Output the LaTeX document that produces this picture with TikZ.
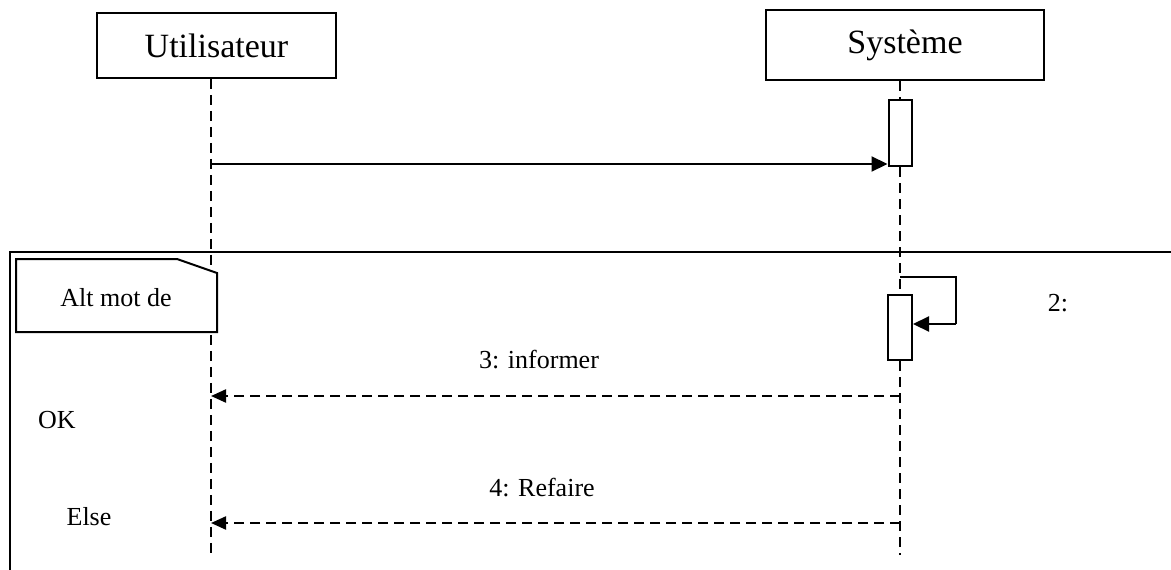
\documentclass[tikz,border=0pt]{standalone}
\usepackage{fontspec}
\setmainfont{Liberation Serif}
\usetikzlibrary{arrows.meta}
\begin{document}
\begin{tikzpicture}[x=1pt,y=-1pt,
  obj/.style={draw, line width=1.6pt, inner sep=0pt, font=\fontsize{34}{40}\selectfont},
  actbar/.style={draw, line width=2pt, fill=white, minimum width=23pt, minimum height=65pt, inner sep=0pt},
  life/.style={line width=2.2pt, dash pattern=on 10pt off 6pt},
  msg/.style={line width=2.2pt, -{Triangle[length=16pt,width=15pt]}},
  reply/.style={line width=2.2pt, dash pattern=on 10pt off 6pt, -{Triangle[length=15pt,width=13pt]}},
  lbl/.style={inner sep=0pt, font=\fontsize{26}{30}\selectfont}]
\useasboundingbox (0,0) rectangle (1171,570);
\clip (0,0) rectangle (1171,570);
% objects
\node[obj, minimum width=239pt, minimum height=65pt] (u) at (216.5,45.5) {Utilisateur};
\node[obj, minimum width=278pt, minimum height=70pt] (s) at (905,45) {Système};
% coordinates on lifelines
\coordinate (uend) at (211,555);
\coordinate (send) at (900,555);
% activation bars
\node[actbar, minimum height=66pt] (act1) at (900,133) {};
\node[actbar, minimum width=24pt] (act2) at (900,327.5) {};
% frame
\draw[line width=2.5pt] (10,600) -- (10,252) -- (1190,252);
% lifelines
\draw[life] (uend |- u.south) -- (uend);
\draw[life] (send |- s.south) -- (act1.north);
\draw[life] (act1.south) -- (act2.north);
\draw[life] (act2.south) -- (send);
% note
\draw[line width=2pt, fill=white] (16,259) -- (177,259) -- (217,273) -- (217,332) -- (16,332) -- cycle;
\node[lbl] (alt) at (116,298) {Alt mot de};
% message 1
\coordinate (m1s) at (211,164);
\draw[msg] (m1s) -- (m1s -| act1.west);
% self message
\coordinate (l0) at (900,277);
\coordinate (l1) at (956,324);
\draw[line width=2.2pt] (l0) -- (l0 -| l1) -- (l1);
\draw[msg] (l1) -- (l1 -| act2.east);
\node[lbl] (t2) at (1058,303) {2:};
% reply 3
\coordinate (r3) at (900,396);
\draw[reply] (r3) -- (r3 -| uend);
\node[lbl] (t3) at (539,360) {3: informer};
\node[lbl] (ok) at (57,420) {OK};
% reply 4
\coordinate (r4) at (900,523);
\draw[reply] (r4) -- (r4 -| uend);
\node[lbl] (t4) at (542,488) {4: Refaire};
\node[lbl] (else) at (89,517) {Else};
\end{tikzpicture}
\end{document}
